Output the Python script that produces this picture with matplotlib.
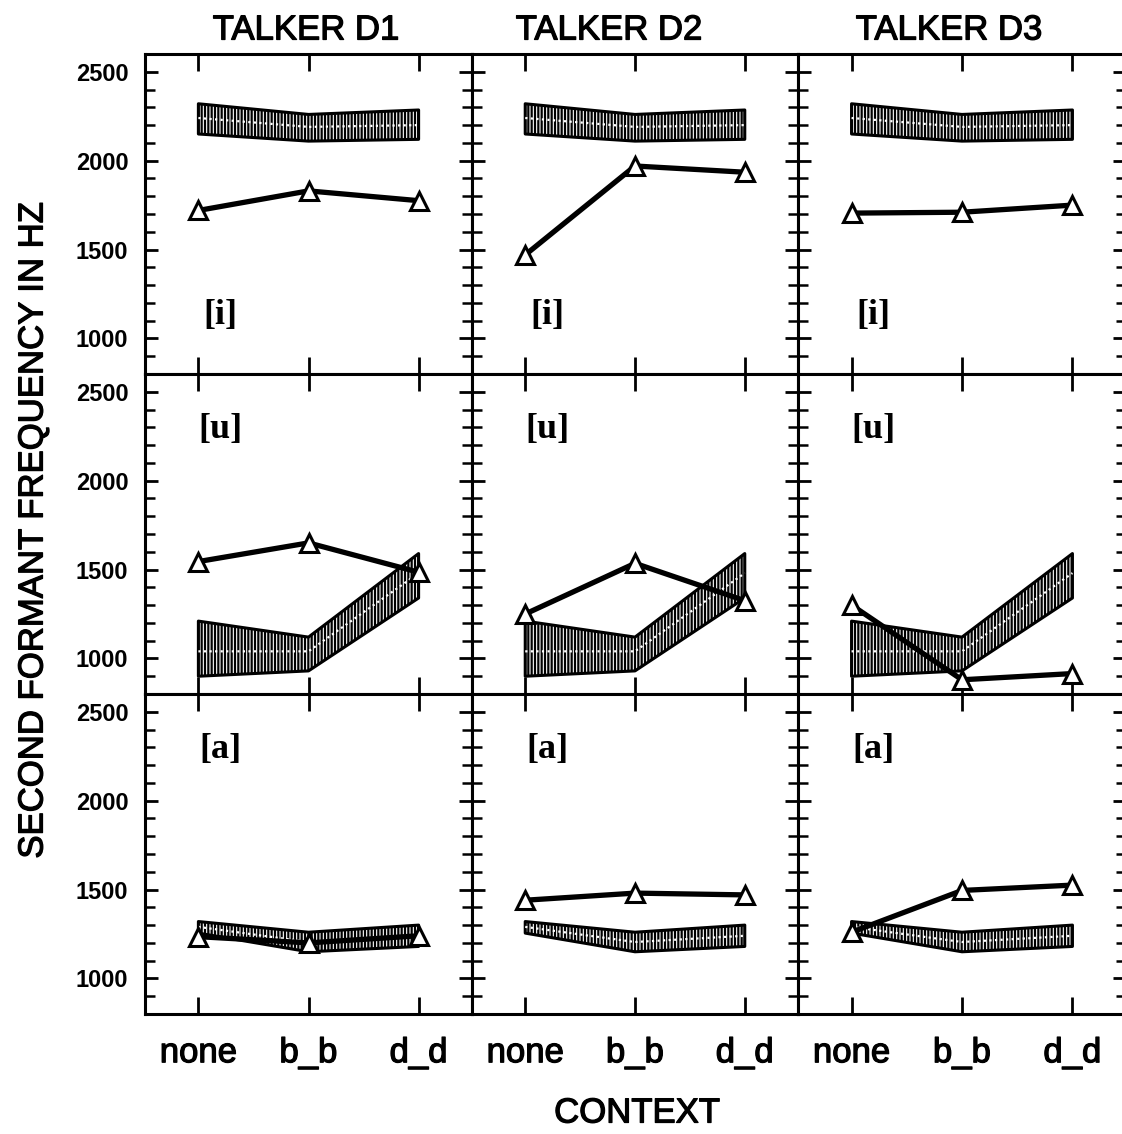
import matplotlib.pyplot as plt
import matplotlib.patheffects as pe
from matplotlib.ticker import MultipleLocator

plt.rcParams["font.family"] = "Liberation Sans"
plt.rcParams["hatch.linewidth"] = 1.6
plt.rcParams["hatch.color"] = "black"

contexts = ["none", "b_b", "d_d"]
talkers = ["TALKER D1", "TALKER D2", "TALKER D3"]
vowels = ["[i]", "[u]", "[a]"]

# reference range per vowel: upper edge, lower edge, mean
band_hi_i = [2320, 2260, 2285]
band_lo_i = [2150, 2110, 2120]
band_mid_i = [2240, 2190, 2200]
band_hi_u = [1210, 1120, 1590]
band_lo_u = [900, 930, 1340]
band_mid_u = [1040, 1040, 1480]
band_hi_a = [1320, 1260, 1300]
band_lo_a = [1255, 1150, 1180]
band_mid_a = [1290, 1205, 1240]

# F2 per talker (D1, D2, D3) for each vowel
f2_i = [[1720, 1830, 1775], [1470, 1970, 1935], [1705, 1710, 1750]]
f2_u = [[1545, 1650, 1485], [1250, 1535, 1325], [1300, 880, 915]]
f2_a = [[1235, 1200, 1240], [1440, 1480, 1470], [1260, 1495, 1525]]

bands = [(band_hi_i, band_lo_i, band_mid_i),
         (band_hi_u, band_lo_u, band_mid_u),
         (band_hi_a, band_lo_a, band_mid_a)]
talker_f2 = [f2_i, f2_u, f2_a]
label_y = [1130, 2290, 2290]

# slightly heavier strokes for the big sans text
heavy = [pe.withStroke(linewidth=0.9, foreground="black")]

W, H = 1122, 1134
fig = plt.figure(figsize=(W / 100, H / 100), dpi=100)

col_left = [145, 472, 798]
col_w = [327, 326, 328]
row_top = [54, 374, 694]
row_h = 320

x = list(range(len(contexts)))
for r in range(3):
    hi, lo, mid = bands[r]
    for c in range(3):
        ax = fig.add_axes([col_left[c] / W, 1 - (row_top[r] + row_h) / H,
                           col_w[c] / W, row_h / H])
        ax.fill_between(x, lo, hi, facecolor="white", edgecolor="black",
                        hatch="|||||", lw=2.2, zorder=2)
        ax.plot(x, mid, color="white", ls=(0, (1, 1.5)), lw=1.6, zorder=3)
        ax.plot(x, talker_f2[r][c], color="black", lw=3.8, marker="^",
                ms=13, mfc="white", mec="black", mew=2.2, zorder=4)
        ax.text(0.2, label_y[r], vowels[r], family="Liberation Serif",
                fontweight="bold", fontsize=26, ha="center", va="center")

        ax.set_xlim(-0.485, 2.485)
        ax.set_ylim(800, 2600)
        ax.set_xticks(x)
        ax.set_xticklabels(contexts)
        ax.set_yticks([1000, 1500, 2000, 2500])
        ax.yaxis.set_minor_locator(MultipleLocator(100))
        ax.tick_params(axis="x", which="both", direction="in", top=True,
                       bottom=True, length=12, width=2, pad=16,
                       labelsize=25, labelbottom=(r == 2))
        ax.tick_params(axis="y", which="major", direction="in", left=True,
                       right=True, length=9.5, width=2, pad=12,
                       labelsize=17, labelleft=(c == 0))
        ax.tick_params(axis="y", which="minor", direction="in", left=True,
                       right=True, length=7, width=1.8)
        for lab in ax.get_yticklabels():
            lab.set_fontweight("bold")
        for lab in ax.get_xticklabels():
            lab.set_path_effects(heavy)
        for sp in ax.spines.values():
            sp.set_linewidth(2.2)

for cx, name in zip([306, 609, 949], talkers):
    fig.text(cx / W, 1 - 30 / H, name, fontsize=25, ha="center",
             va="center", path_effects=heavy)

fig.text(637 / W, 1 - 1113 / H, "CONTEXT", fontsize=25, ha="center",
         va="center", path_effects=heavy)
fig.text(33 / W, 1 - 530 / H, "SECOND FORMANT FREQUENCY IN HZ", fontsize=25,
         rotation=90, ha="center", va="center", path_effects=heavy)

fig.savefig("out.png", dpi=100)
